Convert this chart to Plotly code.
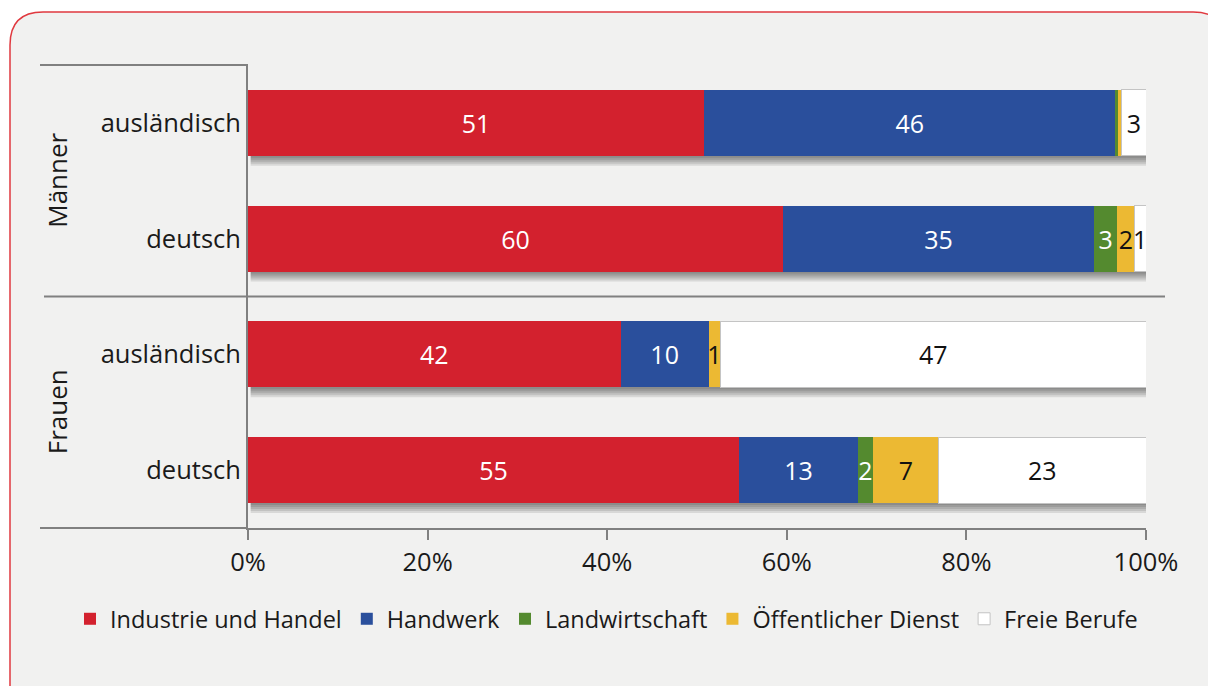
import plotly.graph_objects as go

# ---- data (percent shares) ----
categories = ["ausländisch", "deutsch", "ausländisch", "deutsch"]
groups = ["Männer", "Frauen"]
series_names = ["Industrie und Handel", "Handwerk", "Landwirtschaft",
                "Öffentlicher Dienst", "Freie Berufe"]
industrie = [50.8, 59.6, 41.5, 54.7]
handwerk = [45.8, 34.6, 9.8, 13.2]
landwirtschaft = [0.33, 2.6, 0.0, 1.7]
oeffentlich = [0.37, 1.9, 1.3, 7.3]
freie = [2.7, 1.3, 47.4, 23.1]
x_ticks = [0, 20, 40, 60, 80, 100]

series_values = [industrie, handwerk, landwirtschaft, oeffentlich, freie]
colors = ["#d3212e", "#2a4f9c", "#548a2f", "#ecb933", "#ffffff"]
text_colors = ["white", "white", "white", "#111111", "#111111"]

FONT = "Open Sans"
TXT = "#1a1a1a"
W, H = 1208, 686
ML, MR, MT, MB = 248, 62, 65, 158
PW, PH = W - ML - MR, H - MT - MB


def px(xp):
    return (xp - ML) / PW


def py(yp):
    return (MT + PH - yp) / PH


ypos = list(range(len(categories)))
BAR_W = 0.57
UNIT_PX = PH / len(categories)

fig = go.Figure()

for name, vals, col, tcol in zip(series_names, series_values, colors, text_colors):
    labels = [str(round(v)) if v >= 0.95 else "" for v in vals]
    fig.add_trace(go.Bar(
        name=name, y=ypos, x=vals, orientation="h", width=BAR_W,
        marker=dict(color=col,
                    line=dict(color="#c4c4c4" if col == "#ffffff" else col,
                              width=1 if col == "#ffffff" else 0)),
        text=labels, textposition="inside", insidetextanchor="middle",
        textfont=dict(color=tcol, size=25, family=FONT),
        cliponaxis=False,
    ))

shapes = []
# rounded outer frame (background panel)
x0p, x1p, y0p, y1p, r = 10, 1226, 12, 720, 33
path = (f"M {px(x0p + r)},{py(y0p)} L {px(x1p - r)},{py(y0p)} "
        f"Q {px(x1p)},{py(y0p)} {px(x1p)},{py(y0p + r)} "
        f"L {px(x1p)},{py(y1p - r)} Q {px(x1p)},{py(y1p)} {px(x1p - r)},{py(y1p)} "
        f"L {px(x0p + r)},{py(y1p)} Q {px(x0p)},{py(y1p)} {px(x0p)},{py(y1p - r)} "
        f"L {px(x0p)},{py(y0p + r)} Q {px(x0p)},{py(y0p)} {px(x0p + r)},{py(y0p)} Z")
shapes.append(dict(type="path", xref="paper", yref="paper", path=path,
                   fillcolor="#f1f1f0", line=dict(color="#e0393f", width=1.5),
                   layer="below"))

# soft bar shadows (layered)
totals = [sum(s[k] for s in series_values) for k in ypos]
for i, tot in zip(ypos, totals):
    for step in range(1, 6):
        off = step * 2 / UNIT_PX
        shapes.append(dict(type="rect", xref="x", yref="y", x0=0.3,
                           x1=tot + 0.25, y0=i, y1=i + BAR_W / 2 + off,
                           layer="below", fillcolor="rgba(0,0,0,0.10)",
                           line=dict(width=0)))

LINE = dict(color="#808080", width=2)
shapes.append(dict(type="line", xref="paper", yref="paper",
                   x0=px(40), x1=0, y0=1, y1=1, line=LINE))
shapes.append(dict(type="line", xref="paper", yref="y",
                   x0=px(44), x1=px(1165), y0=1.5, y1=1.5, line=LINE))
shapes.append(dict(type="line", xref="paper", yref="paper",
                   x0=px(40), x1=0, y0=0, y1=0, line=LINE))

annotations = []
for gi, g in enumerate(groups):
    annotations.append(dict(text=g, xref="paper", yref="y", x=px(57),
                            y=gi * 2 + 0.5, textangle=-90, showarrow=False,
                            font=dict(size=26, color=TXT, family=FONT),
                            xanchor="center", yanchor="middle"))

fig.update_layout(
    width=W, height=H,
    margin=dict(l=ML, r=MR, t=MT, b=MB, autoexpand=False),
    barmode="stack",
    paper_bgcolor="white",
    plot_bgcolor="rgba(0,0,0,0)",
    font=dict(family=FONT, size=25, color=TXT),
    showlegend=True,
    legend=dict(orientation="h", xref="paper", yref="paper",
                x=px(70), xanchor="left", y=py(619), yanchor="middle",
                font=dict(size=23.5, color=TXT, family=FONT),
                bgcolor="rgba(0,0,0,0)", traceorder="normal", itemwidth=30),
    uniformtext=dict(minsize=25, mode="show"),
    shapes=shapes,
    annotations=annotations,
    bargap=0.43,
)
fig.update_xaxes(range=[0, 100], tickvals=x_ticks,
                 ticktext=[f"{v}%" for v in x_ticks],
                 showgrid=False, zeroline=False, showline=True,
                 linecolor="#808080", linewidth=2,
                 ticks="outside", ticklen=10, tickcolor="#808080", tickwidth=2,
                 tickfont=dict(size=25.5, color=TXT, family=FONT),
                 ticklabelstandoff=0)
fig.update_yaxes(range=[3.5, -0.5], tickvals=ypos, ticktext=categories,
                 showgrid=False, zeroline=False, showline=True,
                 linecolor="#808080", linewidth=2, ticks="",
                 tickfont=dict(size=25.5, color=TXT, family=FONT),
                 ticklabelstandoff=0)

fig.write_html("out.html", config={"displayModeBar": False},
               post_script="document.body.style.margin='0';document.body.style.overflow='hidden';")
